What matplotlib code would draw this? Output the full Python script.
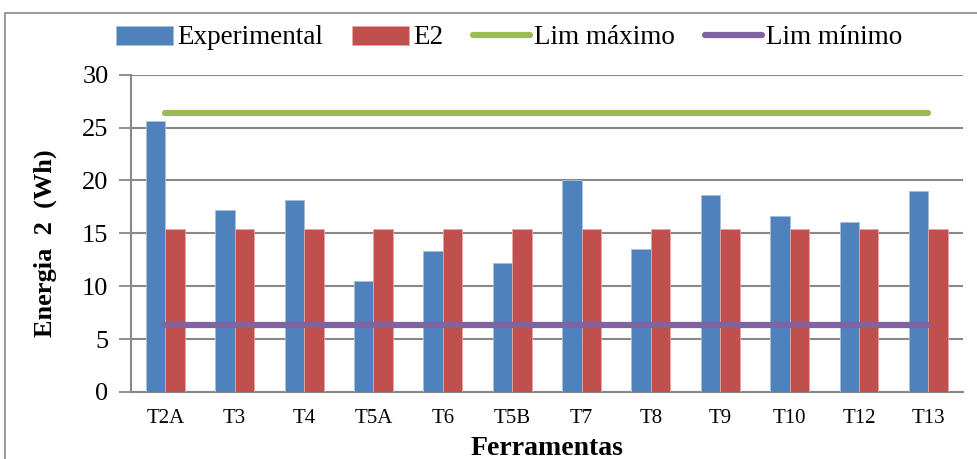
import numpy as np
import matplotlib
matplotlib.use("Agg")
import matplotlib.pyplot as plt
from matplotlib.patches import Rectangle

plt.rcParams['font.family'] = ['Liberation Serif', 'DejaVu Serif']

categorias = ['T2A', 'T3', 'T4', 'T5A', 'T6', 'T5B', 'T7', 'T8', 'T9', 'T10', 'T12', 'T13']
experimental = [25.6, 17.2, 18.15, 10.45, 13.35, 12.15, 20.05, 13.5, 18.6, 16.6, 16.05, 19.0]
e2 = [15.4] * 12
lim_max = [26.4] * 12
lim_min = [6.35] * 12

fig = plt.figure(figsize=(9.77, 4.59), dpi=100)
ax = fig.add_axes([130.7/977, 1 - 392/459, (963 - 130.7)/977, (392 - 74.7)/459])

x = np.arange(len(categorias))
w = 0.28
b1 = ax.bar(x - w/2, experimental, w, color='#4f81bd', edgecolor='#a7c0de', linewidth=0.6,
            label='Experimental', zorder=3)
b2 = ax.bar(x + w/2, e2, w, color='#c0504d', edgecolor='#e0a9a7', linewidth=0.6,
            label='E2', zorder=3)
l1, = ax.plot(x, lim_max, color='#9bbb59', lw=4.5, solid_capstyle='round', label='Lim máximo', zorder=4)
l2, = ax.plot(x, lim_min, color='#8064a2', lw=4.5, solid_capstyle='round', label='Lim mínimo', zorder=4)

ax.set_xlim(-0.5, len(categorias) - 0.5)
ax.set_ylim(0, 30)
ax.set_yticks(range(0, 31, 5))
ax.set_xticks(x)
ax.set_xticklabels(categorias, fontsize=15)
ax.tick_params(axis='y', labelsize=19, length=9, color='#888888', width=1.3, pad=7)
ax.tick_params(axis='x', length=0, pad=12)
ax.yaxis.grid(True, color='#888888', lw=1.5, zorder=0)
ax.set_axisbelow(True)
for s in ['top', 'right']:
    ax.spines[s].set_visible(False)
for s in ['left', 'bottom']:
    ax.spines[s].set_color('#888888')
    ax.spines[s].set_linewidth(1.5)

ax.set_ylabel('Energia  2  (Wh)', fontsize=19, fontweight='bold')
ax.yaxis.set_label_coords(-74/832.3, 0.47)
ax.set_xlabel('Ferramentas', fontsize=20, fontweight='bold', labelpad=6)

ax.legend(handles=[b1, b2, l1, l2], loc='center', bbox_to_anchor=(0.4545, 1 + 36.7/317.3),
          ncol=4, frameon=False, fontsize=19.5, handlelength=2.1, handletextpad=0.15,
          columnspacing=1.1, borderaxespad=0)

fig.patches.append(Rectangle((5/977, -0.1), 1.0, 1.1 - 13/459, transform=fig.transFigure,
                             fill=False, edgecolor='#888888', lw=1.2))

fig.savefig('out.png', dpi=100)
